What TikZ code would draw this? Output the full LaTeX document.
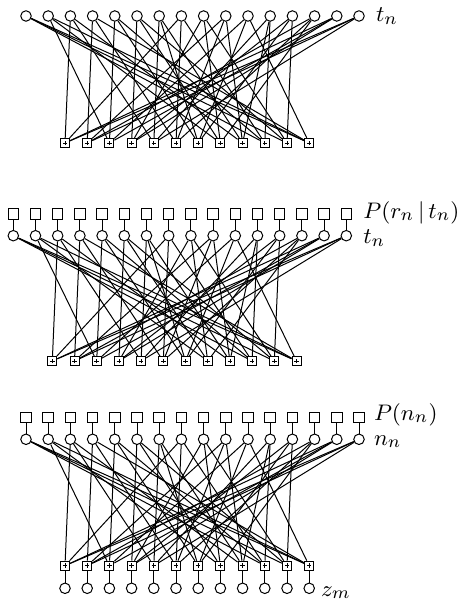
\documentclass[tikz,border=0pt]{standalone}
\usepackage{amsmath}
\usepackage{tikz}
\usetikzlibrary{positioning}
% parity checks: check/bit
\newcommand{\ldpcedges}{0/2,0/7,0/14,0/15,1/3,1/9,1/13,1/15,2/1,2/4,2/10,2/14,3/5,3/8,3/12,3/14,4/2,4/6,4/11,4/15,5/3,5/7,5/9,5/13,6/4,6/6,6/10,6/12,7/1,7/5,7/8,7/13,8/2,8/6,8/9,8/11,9/0,9/4,9/7,9/11,10/0,10/5,10/8,10/12,11/0,11/1,11/3,11/10}

\begin{document}
\begin{tikzpicture}[x=0.4pt,y=-0.4pt,
  node distance=4.3pt,
  bit/.style={draw,circle,inner sep=0pt,minimum size=4.2pt},
  prior/.style={draw,rectangle,inner sep=0pt,minimum size=4.2pt},
  check/.style={draw,rectangle,inner sep=0pt,minimum size=3.6pt,
    path picture={\draw[line width=0.3pt]
      ([xshift=-0.9pt]path picture bounding box.center) -- ([xshift=0.9pt]path picture bounding box.center)
      ([yshift=-0.9pt]path picture bounding box.center) -- ([yshift=0.9pt]path picture bounding box.center);}},
  lab/.style={inner sep=0pt,font=\fontsize{9.3}{11}\selectfont},
  wire/.style={line width=0.4pt}
]
  \useasboundingbox (0,0) rectangle (457,605);
  % (a) prior over codewords
  \foreach \i in {0,...,15}
    \node[bit] (a\i) at ({26+22.2*\i},16) {};
  \foreach \j in {0,...,11}
    \node[check] (af\j) at ({65+22.2*\j},143) {};
  \node[lab,right=of a15] (alab) {$t_n$};
  \foreach \f/\v in \ldpcedges
    \draw[wire] (af\f) -- (a\v);
  % (b) posterior
  \foreach \i in {0,...,15} {
    \node[prior] (bp\i) at ({13.3+22.2*\i},214) {};
    \node[bit] (b\i) at ({13.3+22.2*\i},235.7) {};
    \draw[wire] (bp\i) -- (b\i);
  }
  \foreach \j in {0,...,11}
    \node[check] (bf\j) at ({52.3+22.2*\j},361) {};
  \node[lab,right=of bp15,yshift=0.5pt] (bplab) {$P(r_n\,|\,t_n)$};
  \node[lab,right=of b15,yshift=-1pt] (blab) {$t_n$};
  \foreach \f/\v in \ldpcedges
    \draw[wire] (bf\f) -- (b\v);
  % (c) noise and syndrome
  \foreach \i in {0,...,15} {
    \node[prior] (cp\i) at ({26+22.2*\i},417.3) {};
    \node[bit] (c\i) at ({26+22.2*\i},439.3) {};
    \draw[wire] (cp\i) -- (c\i);
  }
  \foreach \j in {0,...,11} {
    \node[check] (cf\j) at ({65+22.2*\j},565.7) {};
    \node[bit] (z\j) at ({65+22.2*\j},588.3) {};
    \draw[wire] (cf\j) -- (z\j);
  }
  \node[lab,right=3.5pt of cp15,yshift=1pt] (cplab) {$P(n_n)$};
  \node[lab,right=3.5pt of c15,yshift=-1pt] (clab) {$n_n$};
  \node[lab,right=2.3pt of z11,yshift=-1.8pt] (zlab) {$z_m$};
  \foreach \f/\v in \ldpcedges
    \draw[wire] (cf\f) -- (c\v);
\end{tikzpicture}
\end{document}
